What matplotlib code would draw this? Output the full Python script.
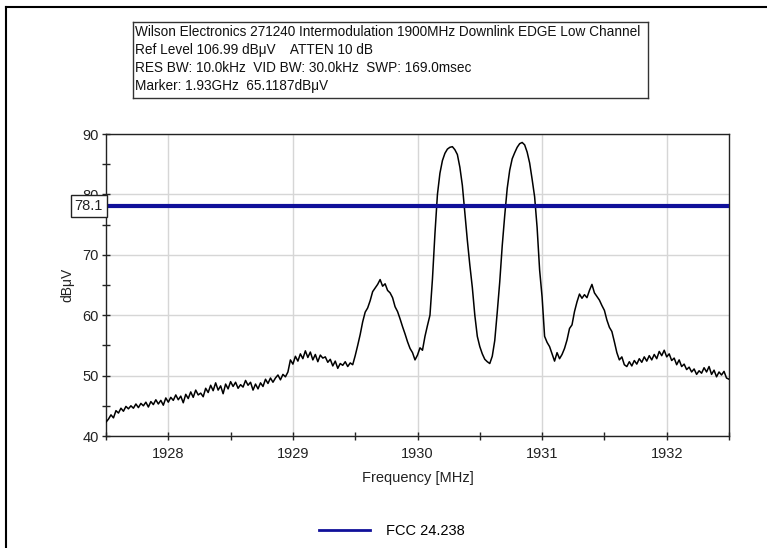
import numpy as np
import matplotlib
matplotlib.use("Agg")
import matplotlib.pyplot as plt
from matplotlib.lines import Line2D

plt.rcParams['font.family'] = ['Liberation Sans Narrow', 'Liberation Sans', 'DejaVu Sans']

# ---- data ----
freq_start = 1927.5
freq_step = 0.02
level_dbuv = [
    # 1927.50 - 1928.00
    42.3, 42.8, 43.5, 43.0, 44.2, 43.8, 44.6, 44.1, 44.9, 44.5, 45.0, 44.6, 45.3,
    44.7, 45.4, 45.0, 45.6, 44.8, 45.7, 45.2, 46.0, 45.3, 45.9, 45.1, 46.3, 45.6,
    # 1928.02 - 1928.50
    46.4, 45.9, 46.8, 46.0, 46.6, 45.5, 46.9, 46.2, 47.3, 46.4, 47.6, 46.8, 47.1,
    46.5, 47.9, 47.2, 48.4, 47.5, 48.8, 47.6, 48.3, 47.0, 48.6, 47.8, 49.0,
    # 1928.52 - 1929.00
    48.2, 48.9, 47.9, 48.5, 48.1, 49.2, 48.4, 48.9, 47.6, 48.6, 47.8, 48.8, 48.2,
    49.4, 48.7, 49.6, 48.9, 49.6, 50.1, 49.3, 50.2, 49.8, 50.6, 52.6, 51.9,
    # 1929.02 - 1929.50
    53.2, 52.4, 53.6, 52.8, 54.1, 53.0, 53.9, 52.6, 53.5, 52.3, 53.4, 52.9, 53.1,
    52.2, 52.7, 51.6, 52.4, 51.2, 52.0, 51.7, 52.3, 51.5, 52.1, 51.8, 53.3,
    # 1929.52 - 1930.00
    55.0, 56.8, 58.9, 60.5, 61.2, 62.4, 63.9, 64.5, 65.1, 65.9, 64.8, 65.2, 64.1,
    63.7, 62.9, 61.4, 60.6, 59.4, 58.1, 56.9, 55.6, 54.5, 53.8, 52.6, 53.4,
    # 1930.02 - 1930.50
    54.6, 54.2, 56.5, 58.3, 60.0, 66.0, 73.5, 80.0, 83.5, 85.6, 86.8, 87.5, 87.8,
    87.9, 87.4, 86.6, 84.5, 81.5, 77.0, 72.4, 68.3, 64.6, 60.0, 56.5, 54.8,
    # 1930.52 - 1931.00
    53.6, 52.7, 52.3, 52.0, 53.2, 55.8, 60.5, 65.5, 71.5, 76.5, 81.0, 84.0, 85.9,
    86.9, 87.8, 88.4, 88.6, 88.2, 87.0, 85.2, 82.5, 79.6, 74.5, 67.5, 63.0,
    # 1931.02 - 1931.50
    56.5, 55.5, 54.8, 53.6, 52.4, 53.8, 52.8, 53.5, 54.5, 55.9, 57.8, 58.4, 60.6,
    62.2, 63.5, 62.8, 63.4, 62.9, 64.1, 65.1, 63.7, 63.1, 62.5, 61.6, 60.8,
    # 1931.52 - 1932.00
    59.2, 58.0, 57.3, 55.6, 53.8, 52.6, 53.1, 51.8, 51.5, 52.3, 51.6, 52.5, 51.9,
    52.8, 52.2, 53.1, 52.4, 53.3, 52.6, 53.5, 52.8, 54.0, 53.3, 54.2, 53.1,
    # 1932.02 - 1932.50
    53.6, 52.5, 52.9, 51.8, 52.6, 51.5, 51.9, 51.0, 51.4, 50.6, 51.1, 50.2, 50.8,
    50.4, 51.3, 50.6, 51.5, 50.2, 50.9, 49.8, 50.6, 50.1, 50.7, 49.6, 49.4,
]
limit_level = 78.1
limit_label = "FCC 24.238"
x_ticks = [1928, 1929, 1930, 1931, 1932]
y_ticks = [40, 50, 60, 70, 80, 90]
header_lines = [
    "Wilson Electronics 271240 Intermodulation 1900MHz Downlink EDGE Low Channel",
    "Ref Level 106.99 dB\u03bcV    ATTEN 10 dB",
    "RES BW: 10.0kHz  VID BW: 30.0kHz  SWP: 169.0msec",
    "Marker: 1.93GHz  65.1187dB\u03bcV",
]

freqs = freq_start + freq_step * np.arange(len(level_dbuv))

W, H = 767, 548
fig = plt.figure(figsize=(W / 100, H / 100), dpi=100)
fig.patch.set_facecolor('white')

# axes placement in pixels
left, right, top, bottom = 106, 729, 134, 436
ax = fig.add_axes([left / W, 1 - bottom / H, (right - left) / W, (bottom - top) / H])

ax.plot(freqs, level_dbuv, color='black', lw=1.1, zorder=3)
ax.axhline(limit_level, color='#10109a', lw=3.0, zorder=4)

ax.set_xlim(1927.5, 1932.5)
ax.set_ylim(40, 90)
ax.set_xticks(x_ticks)
ax.set_yticks(y_ticks)
ax.set_xticks(np.arange(1927.5, 1932.6, 0.5), minor=True)
ax.set_yticks(np.arange(45, 90, 5), minor=True)
ax.tick_params(which='both', direction='inout', length=6, width=1, color='#222222',
               labelsize=10.5, labelcolor='#222222')
ax.tick_params(axis='x', pad=5)
ax.tick_params(axis='y', pad=2)
ax.grid(which='major', color='#d6d6d6', lw=1.0, zorder=0)
for s in ax.spines.values():
    s.set_color('#222222')
    s.set_linewidth(1.0)

ax.set_xlabel("Frequency [MHz]", fontsize=10.5, color='#222222', labelpad=7)
ax.set_ylabel("dB\u03bcV", fontsize=10, color='#222222', labelpad=6)

# limit value box on the y axis
ax.text(-0.005, limit_level, "78.1", transform=ax.get_yaxis_transform(),
        ha='right', va='center', fontsize=10.5, color='#222222', zorder=10,
        bbox=dict(boxstyle='square,pad=0.25', fc='white', ec='#222222', lw=1.0),
        clip_on=False)

# header box
header_ax = fig.add_axes([133 / W, 1 - 98 / H, (648 - 133) / W, (98 - 22) / H])
header_ax.set_xticks([])
header_ax.set_yticks([])
for s in header_ax.spines.values():
    s.set_color('#333333')
    s.set_linewidth(1.0)
for i, line in enumerate(header_lines):
    header_ax.text(0.004, 1 - (10 + 18 * i) / 76, line, ha='left', va='center',
                   fontsize=9.8, color='#111111', transform=header_ax.transAxes)

# legend
handle = Line2D([], [], color='#10109a', lw=2)
fig.legend([handle], [limit_label], loc='center', bbox_to_anchor=(392 / W, 1 - 531 / H),
           frameon=False, fontsize=10.5, handlelength=3.5, handletextpad=1.1)

# outer frame (top and left edges)
fig.add_artist(Line2D([6 / W, 6 / W], [0, 1 - 7 / H], color='black', lw=1.5,
                      transform=fig.transFigure))
fig.add_artist(Line2D([6 / W, 1], [1 - 7 / H, 1 - 7 / H], color='black', lw=1.5,
                      transform=fig.transFigure))

fig.savefig("out.png", dpi=100, facecolor='white')
